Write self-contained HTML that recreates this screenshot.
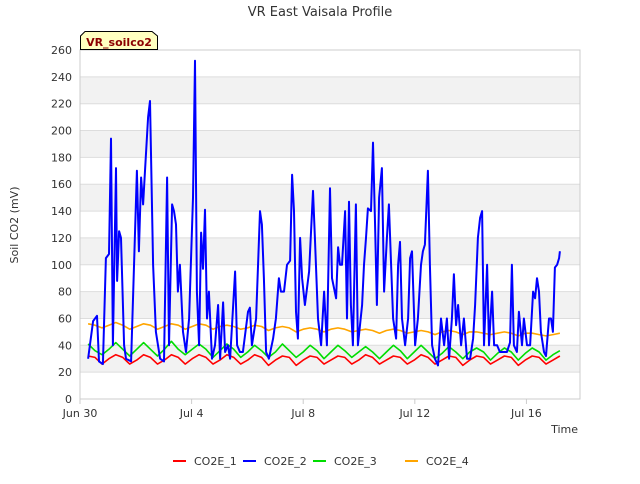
<!DOCTYPE html>
<html><head><meta charset="utf-8"><style>
body{margin:0;background:#fff;font-family:"DejaVu Sans","Liberation Sans",sans-serif}
svg text{font-family:"DejaVu Sans","Liberation Sans",sans-serif}
</style></head><body>
<svg id="chart" width="640" height="480" xmlns="http://www.w3.org/2000/svg">
<rect width="640" height="480" fill="#fff"/>
<text x="320" y="16" text-anchor="middle" font-size="13" fill="#333">VR East Vaisala Profile</text>
<g id="bands"></g><g id="grid"></g>
<rect x="80" y="50" width="500" height="349" fill="none" stroke="#ccc"/>
<g id="yticks"></g><g id="xticks"></g><g id="series"></g>
<text transform="translate(18,225) rotate(-90)" text-anchor="middle" font-size="11" fill="#333">Soil CO2 (mV)</text>
<text x="578" y="433" text-anchor="end" font-size="11" fill="#333">Time</text>
<g>
<path d="M80.5,49.5 V36 L85,31.5 H152 L157.5,36 V49.5 Z" fill="#ffffc0" stroke="#000"/>
<text x="119" y="46" text-anchor="middle" font-size="11" font-weight="bold" fill="#8b0000">VR_soilco2</text>
</g>
<g id="legend"></g>
</svg>
<script>
const yTicks=[0,20,40,60,80,100,120,140,160,180,200,220,240,260];
const xTickLabels=["Jun 30","Jul 4","Jul 8","Jul 12","Jul 16"];
const xTickDays=[0,4,8,12,16];
const seriesNames=["CO2E_1","CO2E_2","CO2E_3","CO2E_4"];
const seriesColors=["#ff0000","#0000ff","#00dd00","#ffa500"];
const startDay=0.29, endDay=17.2;
const co2e1=[32,31,26,30,33,31,26,29,33,31,26,29,33,31,26,30,33,31,26,29,33,31,26,29,33,31,25,29,32,31,25,29,32,31,26,29,32,31,26,29,33,31,26,29,32,31,26,29,33,31,26,29,32,31,25,29,32,31,26,29,32,31,25,29,32,31,26,29,32];
const co2e3=[41,36,33,37,42,37,32,37,42,37,32,37,43,37,33,37,41,37,31,36,41,37,31,35,40,36,31,35,41,36,31,35,40,36,30,35,40,36,31,35,39,35,30,35,40,36,30,35,40,35,30,34,39,35,30,35,38,35,29,34,38,35,29,34,38,35,29,33,36];
const co2e4=[56,55,53,55,57,55,52,54,56,55,52,54,56,55,52,54,56,55,52,54,55,54,52,53,55,54,51,53,54,53,50,52,53,52,50,52,53,52,50,51,52,51,49,51,52,51,49,50,51,50,48,50,51,50,48,50,50,49,48,49,50,49,47,49,49,48,47,48,49];
const co2e2Days=[0.29,0.47,0.61,0.68,0.82,0.93,1.04,1.11,1.18,1.29,1.33,1.40,1.47,1.58,1.65,1.83,2.04,2.11,2.19,2.26,2.33,2.44,2.51,2.62,2.72,2.87,3.01,3.12,3.19,3.30,3.37,3.44,3.51,3.58,3.69,3.80,3.91,4.05,4.12,4.19,4.27,4.34,4.41,4.48,4.55,4.62,4.73,4.84,4.95,5.02,5.13,5.20,5.30,5.38,5.56,5.63,5.73,5.84,6.02,6.09,6.16,6.31,6.45,6.52,6.59,6.67,6.77,6.92,7.02,7.13,7.20,7.31,7.42,7.53,7.60,7.67,7.74,7.81,7.89,7.96,8.06,8.21,8.35,8.42,8.53,8.64,8.75,8.85,8.96,9.03,9.18,9.25,9.32,9.39,9.50,9.57,9.64,9.71,9.78,9.89,9.96,10.11,10.18,10.25,10.32,10.43,10.50,10.57,10.64,10.72,10.82,10.90,11.00,11.07,11.15,11.22,11.33,11.40,11.47,11.54,11.65,11.76,11.83,11.90,12.01,12.11,12.22,12.29,12.36,12.47,12.54,12.62,12.72,12.83,12.94,13.05,13.15,13.23,13.33,13.40,13.48,13.55,13.66,13.76,13.87,13.98,14.09,14.16,14.26,14.34,14.41,14.48,14.59,14.66,14.77,14.84,14.95,15.05,15.16,15.30,15.41,15.48,15.55,15.66,15.73,15.84,15.91,16.02,16.13,16.24,16.31,16.38,16.45,16.52,16.63,16.70,16.81,16.88,16.95,17.02,17.10,17.17,17.20];
const co2e2=[30,58,62,28,26,105,108,194,40,172,88,125,120,40,30,28,170,110,165,145,170,210,222,100,50,30,28,165,40,145,140,130,80,100,50,35,60,150,252,80,40,124,97,141,60,80,30,40,70,30,72,35,40,30,95,40,35,35,65,68,40,60,140,130,90,35,30,45,60,90,80,80,100,103,167,140,65,45,120,90,70,95,155,120,60,40,80,40,157,90,75,113,100,100,140,60,147,70,40,145,40,70,100,120,142,140,191,135,70,150,172,80,120,145,100,60,45,100,117,60,40,60,105,110,40,60,100,110,115,170,100,40,30,25,60,40,60,30,60,93,55,70,40,60,30,30,45,70,120,135,140,40,100,40,80,40,40,35,35,35,42,100,40,35,65,40,60,40,40,80,75,90,80,50,35,32,60,60,50,98,100,105,110];
const seriesData=[co2e1,co2e2,co2e3,co2e4];
const X0=80,X1=580,Y0=399,Y1=50,DAYS=17.92;
const xs=d=>X0+d/DAYS*(X1-X0);
const ys=v=>Y0-v/260*(Y0-Y1);
const NS="http://www.w3.org/2000/svg";
function mk(tag,attrs,parent){const e=document.createElementNS(NS,tag);for(const k in attrs)e.setAttribute(k,attrs[k]);parent.appendChild(e);return e;}
const bands=document.getElementById('bands'),grid=document.getElementById('grid'),yt=document.getElementById('yticks'),xt=document.getElementById('xticks'),sg=document.getElementById('series'),lg=document.getElementById('legend');
for(let i=0;i<yTicks.length;i++){
  const v=yTicks[i];
  if(i%2===1&&i<yTicks.length-1){const b=mk('rect',{x:X0,y:ys(yTicks[i+1]),width:X1-X0,height:ys(v)-ys(yTicks[i+1]),fill:'#f2f2f2'},bands);
  
  }
  const l=mk('line',{x1:X0,x2:X1,y1:ys(v),y2:ys(v),stroke:'#ddd'},grid);
  
  
  const t=mk('text',{x:X0-8,y:ys(v)+4,'text-anchor':'end','font-size':'11',fill:'#333'},yt);t.textContent=v;
  
  
}
for(let i=0;i<xTickDays.length;i++){
  const x=xs(xTickDays[i]);
  mk('line',{x1:x,x2:x,y1:Y0,y2:Y0+5,stroke:'#ccc'},xt);
  const t=mk('text',{x:x,y:Y0+18,'text-anchor':'middle','font-size':'11',fill:'#333'},xt);t.textContent=xTickLabels[i];
  
  
}
[0,2,3,1].forEach(si=>{
  const arr=seriesData[si];const step=(endDay-startDay)/(arr.length-1);
  let pts;
  if(si===1){const n=Math.min(arr.length,co2e2Days.length);pts=arr.slice(0,n).map((v,i)=>xs(co2e2Days[i]).toFixed(1)+','+ys(v).toFixed(1)).join(' ');}
  else pts=arr.map((v,i)=>xs(startDay+i*step).toFixed(1)+','+ys(v).toFixed(1)).join(' ');
  const p=mk('polyline',{points:pts,fill:'none',stroke:seriesColors[si],'stroke-width':si===1?2:1.6,'stroke-linejoin':'round'},sg);
  
  
});
const lx=[173,243,313,405];
seriesNames.forEach((n,i)=>{
  const g=mk('g',{},lg);
  
  
  mk('line',{x1:lx[i],x2:lx[i]+13,y1:461,y2:461,stroke:seriesColors[i],'stroke-width':2},g);
  const t=mk('text',{x:lx[i]+21,y:465,'font-size':'11',fill:'#333'},g);t.textContent=n;
});
</script>
</body></html>
